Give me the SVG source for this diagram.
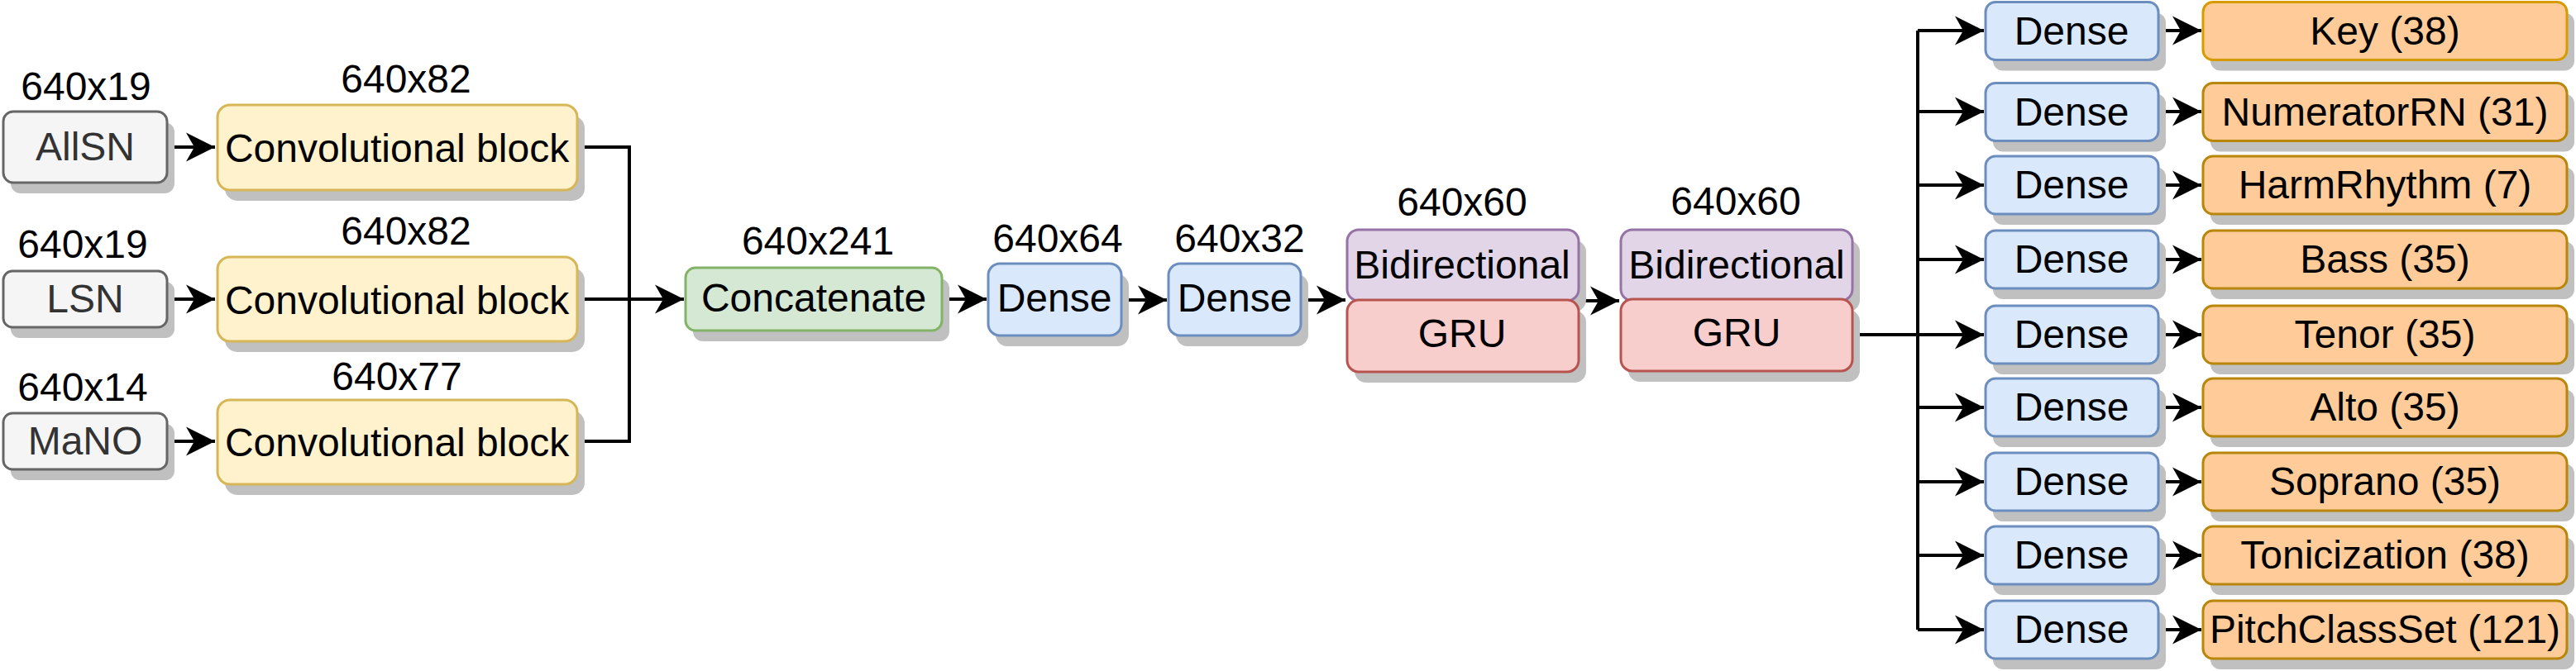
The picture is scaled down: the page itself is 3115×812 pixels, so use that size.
<svg xmlns="http://www.w3.org/2000/svg" width="3115" height="812" viewBox="0 0 3115 812">
<style>
text{font-family:"Liberation Sans",Arial,sans-serif;font-size:48px;fill:#000;text-anchor:middle}
.sh{fill:#c0c0c0;stroke:none}
.in{fill:#f5f5f5;stroke:#666666;stroke-width:3}
.in text,.it{fill:#333333}
.conv{fill:#fff2cc;stroke:#d6b656;stroke-width:3}
.cat{fill:#d5e8d4;stroke:#82b366;stroke-width:3}
.den{fill:#dae8fc;stroke:#6c8ebf;stroke-width:3}
.bi{fill:#e1d5e7;stroke:#9673a6;stroke-width:3}
.gru{fill:#f8cecc;stroke:#b85450;stroke-width:3}
.out{fill:#ffcc99;stroke:#b8860b;stroke-width:3}
.out1{fill:#ffcc99;stroke:#d79b00;stroke-width:3}
.e{fill:none;stroke:#000;stroke-width:4;marker-end:url(#arr)}
.ln{fill:none;stroke:#000;stroke-width:4}
</style>
<defs>
<marker id="arr" markerUnits="userSpaceOnUse" markerWidth="40" markerHeight="40" viewBox="-38 -20 40 40" refX="0" refY="0" orient="auto">
<path d="M0,0 L-35,-17.5 L-25,0 L-35,17.5 Z" fill="#000"/>
</marker>
</defs>

<g id="connectors">
<path class="e" d="M203,178 H260"/>
<path class="e" d="M203,362 H260"/>
<path class="e" d="M203,534 H260"/>
<path class="ln" d="M700,178 H761 V362"/>
<path class="ln" d="M700,534 H761 V362"/>
<path class="e" d="M700,362 H827"/>
<path class="e" d="M1140,362 H1193"/>
<path class="e" d="M1356,363 H1411"/>
<path class="e" d="M1574,363 H1627"/>
<path class="e" d="M1909,364 H1958"/>
<path class="ln" d="M2240,405 H2319"/>
<path class="ln" d="M2319,37 V762"/>
<path class="e" d="M2319,37 H2399"/>
<path class="e" d="M2319,135 H2399"/>
<path class="e" d="M2319,224 H2399"/>
<path class="e" d="M2319,314 H2399"/>
<path class="e" d="M2319,405 H2399"/>
<path class="e" d="M2319,493 H2399"/>
<path class="e" d="M2319,583 H2399"/>
<path class="e" d="M2319,672 H2399"/>
<path class="e" d="M2319,762 H2399"/>
<path class="e" d="M2610,37 H2662"/>
<path class="e" d="M2610,135 H2662"/>
<path class="e" d="M2610,224 H2662"/>
<path class="e" d="M2610,314 H2662"/>
<path class="e" d="M2610,405 H2662"/>
<path class="e" d="M2610,493 H2662"/>
<path class="e" d="M2610,583 H2662"/>
<path class="e" d="M2610,672 H2662"/>
<path class="e" d="M2610,762 H2662"/>
</g>

<g id="labels">
<text x="104" y="121">640x19</text>
<text x="100" y="312">640x19</text>
<text x="100" y="485">640x14</text>
<text x="491" y="112">640x82</text>
<text x="491" y="296">640x82</text>
<text x="480" y="472">640x77</text>
<text x="989" y="308">640x241</text>
<text x="1279" y="305">640x64</text>
<text x="1499" y="305">640x32</text>
<text x="1768" y="261">640x60</text>
<text x="2099" y="260">640x60</text>
</g>

<g id="n-allsn"><rect class="sh" x="13" y="148" width="198" height="86" rx="12"/><rect class="in" x="4" y="135" width="198" height="86" rx="12"/><text class="it" x="103" y="194">AllSN</text></g>
<g id="n-lsn"><rect class="sh" x="13" y="341" width="198" height="68" rx="11"/><rect class="in" x="4" y="328" width="198" height="68" rx="11"/><text class="it" x="103" y="378">LSN</text></g>
<g id="n-mano"><rect class="sh" x="13" y="513" width="198" height="68" rx="11"/><rect class="in" x="4" y="500" width="198" height="68" rx="11"/><text class="it" x="103" y="550">MaNO</text></g>

<g id="n-conv1"><rect class="sh" x="272" y="140" width="435" height="103" rx="15"/><rect class="conv" x="263" y="127" width="435" height="103" rx="15"/><text x="480" y="196">Convolutional block</text></g>
<g id="n-conv2"><rect class="sh" x="272" y="324" width="435" height="102" rx="15"/><rect class="conv" x="263" y="311" width="435" height="102" rx="15"/><text x="480" y="380">Convolutional block</text></g>
<g id="n-conv3"><rect class="sh" x="272" y="497" width="435" height="102" rx="15"/><rect class="conv" x="263" y="484" width="435" height="102" rx="15"/><text x="480" y="552">Convolutional block</text></g>

<g id="n-concat"><rect class="sh" x="838" y="337" width="310" height="76" rx="12"/><rect class="cat" x="829" y="324" width="310" height="76" rx="12"/><text x="984" y="377">Concatenate</text></g>
<g id="n-dense1"><rect class="sh" x="1204" y="332" width="161" height="87" rx="14"/><rect class="den" x="1195" y="319" width="161" height="87" rx="14"/><text x="1275" y="377">Dense</text></g>
<g id="n-dense2"><rect class="sh" x="1422" y="332" width="160" height="87" rx="14"/><rect class="den" x="1413" y="319" width="160" height="87" rx="14"/><text x="1493" y="377">Dense</text></g>

<g id="n-bigru1">
<rect class="sh" x="1638" y="291" width="280" height="86" rx="14"/>
<rect class="bi" x="1629" y="278" width="280" height="86" rx="14"/>
<rect class="sh" x="1638" y="376" width="280" height="87" rx="14"/>
<rect class="gru" x="1629" y="363" width="280" height="87" rx="14"/>
<text x="1768" y="337">Bidirectional</text>
<text x="1768" y="420">GRU</text>
</g>
<g id="n-bigru2">
<rect class="sh" x="1969" y="291" width="280" height="86" rx="14"/>
<rect class="bi" x="1960" y="278" width="280" height="86" rx="14"/>
<rect class="sh" x="1969" y="375" width="280" height="87" rx="14"/>
<rect class="gru" x="1960" y="362" width="280" height="87" rx="14"/>
<text x="2100" y="337">Bidirectional</text>
<text x="2100" y="419">GRU</text>
</g>

<g id="n-d-key"><rect class="sh" x="2410" y="15.5" width="209" height="70" rx="12"/><rect class="den" x="2401" y="2.5" width="209" height="70" rx="12"/><text x="2505" y="53.5">Dense</text></g>
<g id="n-d-num"><rect class="sh" x="2410" y="113.5" width="209" height="70" rx="12"/><rect class="den" x="2401" y="100.5" width="209" height="70" rx="12"/><text x="2505" y="151.5">Dense</text></g>
<g id="n-d-harm"><rect class="sh" x="2410" y="202" width="209" height="70" rx="12"/><rect class="den" x="2401" y="189" width="209" height="70" rx="12"/><text x="2505" y="240">Dense</text></g>
<g id="n-d-bass"><rect class="sh" x="2410" y="292" width="209" height="70" rx="12"/><rect class="den" x="2401" y="279" width="209" height="70" rx="12"/><text x="2505" y="330">Dense</text></g>
<g id="n-d-tenor"><rect class="sh" x="2410" y="383" width="209" height="70" rx="12"/><rect class="den" x="2401" y="370" width="209" height="70" rx="12"/><text x="2505" y="421">Dense</text></g>
<g id="n-d-alto"><rect class="sh" x="2410" y="471" width="209" height="70" rx="12"/><rect class="den" x="2401" y="458" width="209" height="70" rx="12"/><text x="2505" y="509">Dense</text></g>
<g id="n-d-sop"><rect class="sh" x="2410" y="561" width="209" height="70" rx="12"/><rect class="den" x="2401" y="548" width="209" height="70" rx="12"/><text x="2505" y="599">Dense</text></g>
<g id="n-d-ton"><rect class="sh" x="2410" y="650" width="209" height="70" rx="12"/><rect class="den" x="2401" y="637" width="209" height="70" rx="12"/><text x="2505" y="688">Dense</text></g>
<g id="n-d-pcs"><rect class="sh" x="2410" y="740" width="209" height="70" rx="12"/><rect class="den" x="2401" y="727" width="209" height="70" rx="12"/><text x="2505" y="778">Dense</text></g>

<g id="n-key"><rect class="sh" x="2673" y="15.5" width="440" height="70" rx="12"/><rect class="out1" x="2664" y="2.5" width="440" height="70" rx="12"/><text x="2884" y="53.5">Key (38)</text></g>
<g id="n-num"><rect class="sh" x="2673" y="113.5" width="440" height="70" rx="12"/><rect class="out" x="2664" y="100.5" width="440" height="70" rx="12"/><text x="2884" y="151.5">NumeratorRN (31)</text></g>
<g id="n-harm"><rect class="sh" x="2673" y="202" width="440" height="70" rx="12"/><rect class="out" x="2664" y="189" width="440" height="70" rx="12"/><text x="2884" y="240">HarmRhythm (7)</text></g>
<g id="n-bass"><rect class="sh" x="2673" y="292" width="440" height="70" rx="12"/><rect class="out" x="2664" y="279" width="440" height="70" rx="12"/><text x="2884" y="330">Bass (35)</text></g>
<g id="n-tenor"><rect class="sh" x="2673" y="383" width="440" height="70" rx="12"/><rect class="out" x="2664" y="370" width="440" height="70" rx="12"/><text x="2884" y="421">Tenor (35)</text></g>
<g id="n-alto"><rect class="sh" x="2673" y="471" width="440" height="70" rx="12"/><rect class="out" x="2664" y="458" width="440" height="70" rx="12"/><text x="2884" y="509">Alto (35)</text></g>
<g id="n-sop"><rect class="sh" x="2673" y="561" width="440" height="70" rx="12"/><rect class="out" x="2664" y="548" width="440" height="70" rx="12"/><text x="2884" y="599">Soprano (35)</text></g>
<g id="n-ton"><rect class="sh" x="2673" y="650" width="440" height="70" rx="12"/><rect class="out" x="2664" y="637" width="440" height="70" rx="12"/><text x="2884" y="688">Tonicization (38)</text></g>
<g id="n-pcs"><rect class="sh" x="2673" y="740" width="440" height="70" rx="12"/><rect class="out" x="2664" y="727" width="440" height="70" rx="12"/><text x="2884" y="778">PitchClassSet (121)</text></g>
</svg>
